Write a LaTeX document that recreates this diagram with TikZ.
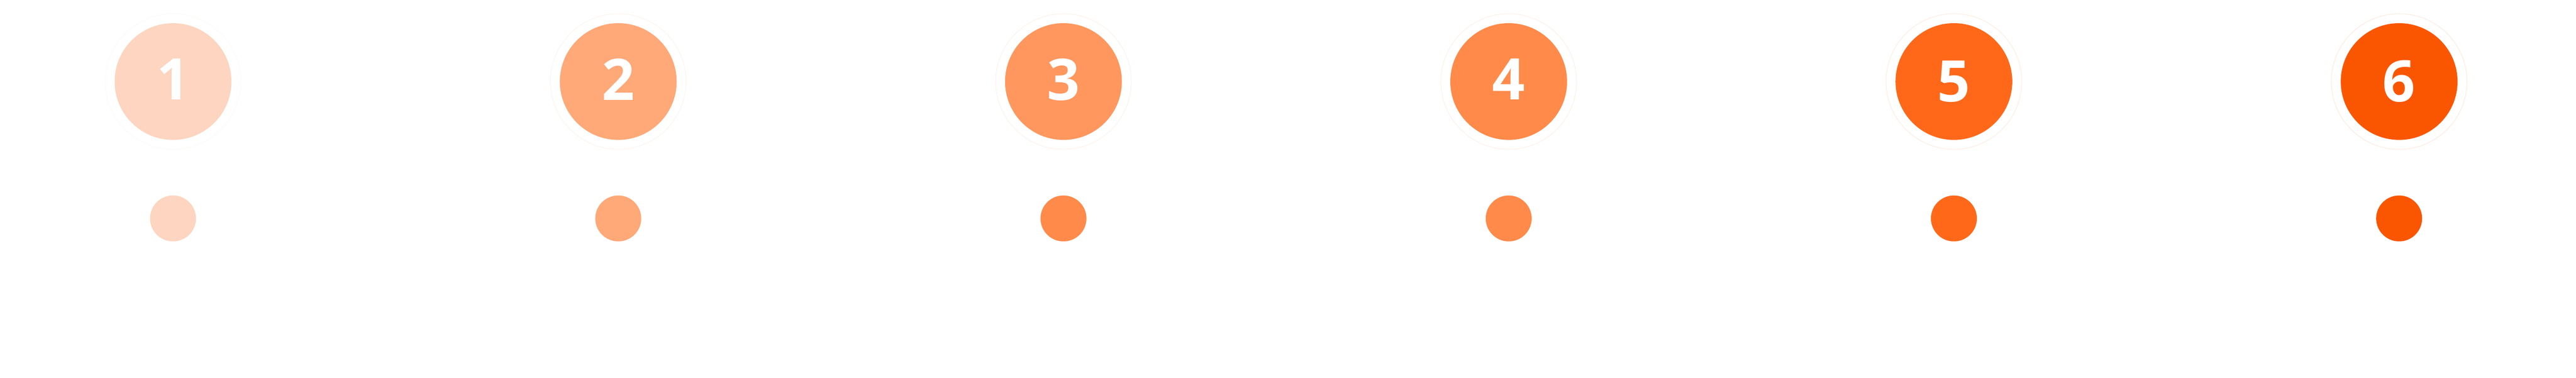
\documentclass[tikz,border=0pt]{standalone}
\usepackage{fontspec}
\setmainfont{Open Sans}
\definecolor{stepA}{HTML}{FDD5C0}
\definecolor{stepB}{HTML}{FFA878}
\definecolor{stepC}{HTML}{FF975E}
\definecolor{stepCdot}{HTML}{FF8A4A}
\definecolor{stepD}{HTML}{FF8A4A}
\definecolor{stepE}{HTML}{FF6819}
\definecolor{stepF}{HTML}{FA5602}
\newcommand{\upnum}[1]{\raisebox{0.11cm}{#1}}
\begin{document}
\begin{tikzpicture}[
  ring/.style={circle, fill=white, line width=0.3pt, minimum size=3.16cm, inner sep=0pt},
  disc/.style={circle, minimum size=2.72cm, inner sep=0pt, text=white, font=\fontsize{38}{38}\selectfont\bfseries},
  dot/.style={circle, minimum size=1.07cm, inner sep=0pt}
]
% Page size (6000 x 880 px, 1 px = 0.01 cm)
\useasboundingbox[fill=white] (0,0) rectangle (60,8.8);

% Step 1
\node[ring, draw=stepA!15] (ring1) at (4.03, 6.9) {};
\node[disc, fill=stepA] (step1) at (ring1) {\upnum{1}};
\node[dot, fill=stepA] (dot1) at (4.03, 3.71) {};
% Step 2
\node[ring, draw=stepB!15] (ring2) at (14.40, 6.9) {};
\node[disc, fill=stepB] (step2) at (ring2) {\upnum{2}};
\node[dot, fill=stepB] (dot2) at (14.40, 3.71) {};
% Step 3
\node[ring, draw=stepC!15] (ring3) at (24.77, 6.9) {};
\node[disc, fill=stepC] (step3) at (ring3) {\upnum{3}};
\node[dot, fill=stepCdot] (dot3) at (24.77, 3.71) {};
% Step 4
\node[ring, draw=stepD!15] (ring4) at (35.14, 6.9) {};
\node[disc, fill=stepD] (step4) at (ring4) {\upnum{4}};
\node[dot, fill=stepD] (dot4) at (35.14, 3.71) {};
% Step 5
\node[ring, draw=stepE!15] (ring5) at (45.51, 6.9) {};
\node[disc, fill=stepE] (step5) at (ring5) {5};
\node[dot, fill=stepE] (dot5) at (45.51, 3.71) {};
% Step 6
\node[ring, draw=stepF!15] (ring6) at (55.88, 6.9) {};
\node[disc, fill=stepF] (step6) at (ring6) {6};
\node[dot, fill=stepF] (dot6) at (55.88, 3.71) {};
\end{tikzpicture}
\end{document}
